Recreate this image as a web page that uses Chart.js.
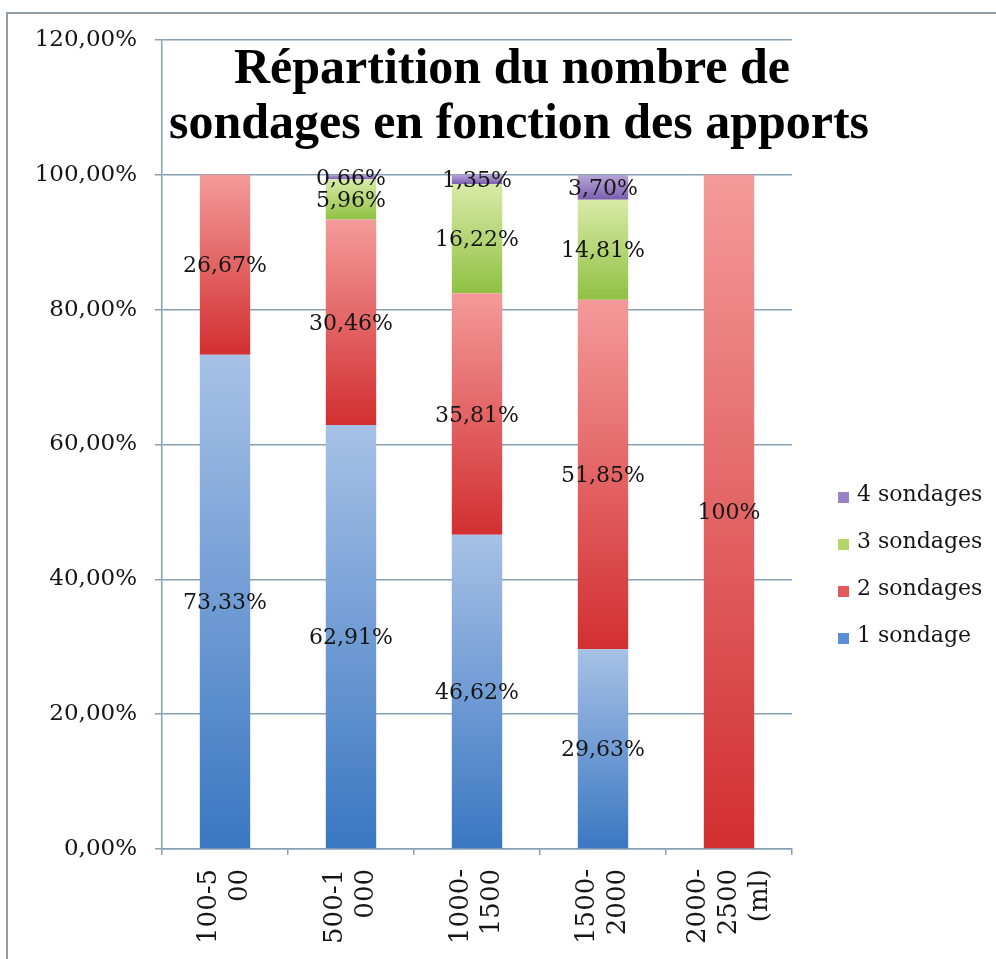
<!DOCTYPE html>
<html>
<head>
<meta charset="utf-8">
<title>Répartition du nombre de sondages</title>
<script src="https://cdn.jsdelivr.net/npm/chart.js@4.4.1/dist/chart.umd.min.js"></script>
<style>
    html, body { margin: 0; padding: 0; background: #fff; }
    #chart { display: block; }
</style>
</head>
<body>
<canvas id="chart" width="996" height="959"></canvas>
<script>
// Categories (x axis, multi-line as in the original)
const categories = [
    ['100-5', '00'],
    ['500-1', '000'],
    ['1000-', '1500'],
    ['1500-', '2000'],
    ['2000-', '2500', '(ml)']
];

// Series values, in %
const unSondage = [73.33, 62.91, 46.62, 29.63, 0];
const deuxSondages = [26.67, 30.46, 35.81, 51.85, 100];
const troisSondages = [0, 5.96, 16.22, 14.81, 0];
const quatreSondages = [0, 0.66, 1.35, 3.70, 0];

const seriesLabels = ['1 sondage', '2 sondages', '3 sondages', '4 sondages'];
const yTicks = [0, 20, 40, 60, 80, 100, 120];
const titleLines = ['Répartition du nombre de', 'sondages en fonction des apports'];

// gradient colours: [top, bottom]
const COLORS = {
    blue: ['#a7c1e6', '#3a77c2'],
    red: ['#f49a9a', '#d22f30'],
    green: ['#d9eaa8', '#8fc142'],
    purple: ['#b7a5d6', '#7b5fae']
};
const GRID = '#86a0b4';
const SERIF = '"DejaVu Serif", "Liberation Serif", serif';

const fmtPct = v => v === 100 ? '100%' : v.toFixed(2).replace('.', ',') + '%';

// Vertical gradient across each stacked segment
function segmentFill([top, bottom]) {
    return (ctx) => {
        const chart = ctx.chart;
        const y = chart.scales.y;
        if (ctx.type !== 'data' || !y || !chart.chartArea) return bottom;
        let start = 0;
        for (let i = 0; i < ctx.datasetIndex; i++) {
            start += chart.data.datasets[i].data[ctx.dataIndex];
        }
        const v = chart.data.datasets[ctx.datasetIndex].data[ctx.dataIndex];
        const y0 = y.getPixelForValue(start + v);
        const y1 = y.getPixelForValue(start);
        if (y1 - y0 < 1) return bottom;
        const g = chart.ctx.createLinearGradient(0, y0, 0, y1);
        g.addColorStop(0, top);
        g.addColorStop(1, bottom);
        return g;
    };
}

// Outer frame + white background
const framePlugin = {
    id: 'frame',
    beforeDraw(chart) {
        const c = chart.ctx;
        c.save();
        c.fillStyle = '#fff';
        c.fillRect(0, 0, chart.width, chart.height);
        c.strokeStyle = '#8f9ea8';
        c.lineWidth = 2;
        c.beginPath();
        c.moveTo(7, chart.height);
        c.lineTo(7, 13);
        c.lineTo(chart.width, 13);
        c.stroke();
        c.restore();
    }
};

// Value labels in the middle of each segment
const valueLabels = {
    id: 'valueLabels',
    afterDatasetsDraw(chart) {
        const c = chart.ctx;
        c.save();
        c.font = '22px ' + SERIF;
        c.fillStyle = '#161616';
        c.textAlign = 'center';
        c.textBaseline = 'middle';
        chart.data.datasets.forEach((ds, di) => {
            const meta = chart.getDatasetMeta(di);
            meta.data.forEach((bar, i) => {
                const v = ds.data[i];
                if (!v) return;
                c.fillText(fmtPct(v), bar.x, (bar.y + bar.base) / 2 + 2);
            });
        });
        c.restore();
    }
};

// Category labels: rotated, lines centred on the tick (Chart.js offsets them otherwise)
const xLabels = {
    id: 'xLabels',
    afterDraw(chart) {
        const c = chart.ctx;
        const x = chart.scales.x;
        const lh = 31;
        c.save();
        c.font = '26px ' + SERIF;
        c.fillStyle = '#161616';
        c.textAlign = 'right';
        c.textBaseline = 'middle';
        categories.forEach((lines, i) => {
            const px = x.getPixelForValue(i);
            lines.forEach((line, j) => {
                const off = (j - (lines.length - 1) / 2) * lh;
                c.save();
                c.translate(px + off, x.top + 20);
                c.rotate(-Math.PI / 2);
                c.fillText(line, 0, 0);
                c.restore();
            });
        });
        c.restore();
    }
};

// Title drawn inside the plot area, like the original
const titlePlugin = {
    id: 'insideTitle',
    afterDraw(chart) {
        const c = chart.ctx;
        c.save();
        c.font = 'bold 50px "Liberation Serif", serif';
        c.fillStyle = '#000';
        c.textAlign = 'center';
        c.textBaseline = 'alphabetic';
        c.fillText(titleLines[0], 512, 83);
        c.fillText(titleLines[1], 519, 138);
        c.restore();
    }
};

// Legend on the right, top item = last series
const legendPlugin = {
    id: 'sideLegend',
    afterDraw(chart) {
        const c = chart.ctx;
        const items = chart.data.datasets.map(ds => ({ text: ds.label, color: ds.legendColor })).reverse();
        c.save();
        c.font = '22px ' + SERIF;
        c.textBaseline = 'middle';
        c.textAlign = 'left';
        items.forEach((it, k) => {
            const yc = 495 + k * 47;
            c.fillStyle = it.color;
            c.fillRect(838, yc - 3, 11, 11);
            c.fillStyle = '#161616';
            c.fillText(it.text, 857, yc);
        });
        c.restore();
    }
};

const datasets = [
    { label: seriesLabels[0], data: unSondage, backgroundColor: segmentFill(COLORS.blue), legendColor: '#5b8fd3' },
    { label: seriesLabels[1], data: deuxSondages, backgroundColor: segmentFill(COLORS.red), legendColor: '#e25a5a' },
    { label: seriesLabels[2], data: troisSondages, backgroundColor: segmentFill(COLORS.green), legendColor: '#b3d56a' },
    { label: seriesLabels[3], data: quatreSondages, backgroundColor: segmentFill(COLORS.purple), legendColor: '#9a82c6' }
];

new Chart(document.getElementById('chart'), {
    type: 'bar',
    data: { labels: categories, datasets },
    options: {
        responsive: false,
        animation: false,
        devicePixelRatio: 1,
        categoryPercentage: 0.8,
        barPercentage: 0.5,
        layout: { padding: { left: 0, top: 40, right: 204, bottom: 0 } },
        plugins: {
            legend: { display: false },
            title: { display: false },
            tooltip: { enabled: false }
        },
        scales: {
            x: {
                stacked: true,
                offset: true,
                grid: { display: true, drawOnChartArea: false, color: GRID, tickLength: 6, lineWidth: 1.5 },
                border: { color: GRID, width: 1.5 },
                ticks: { display: false },
                afterFit(scale) { scale.height = 110; }
            },
            y: {
                stacked: true,
                min: 0,
                max: 120,
                afterBuildTicks(scale) { scale.ticks = yTicks.map(v => ({ value: v })); },
                grid: { color: GRID, tickLength: 7, lineWidth: 1.5 },
                border: { color: GRID, width: 1.5 },
                ticks: {
                    padding: 18,
                    color: '#161616',
                    font: { family: SERIF, size: 23 },
                    callback: v => v.toFixed(2).replace('.', ',') + '%'
                },
                afterFit(scale) { scale.width = 162; }
            }
        }
    },
    plugins: [framePlugin, valueLabels, xLabels, titlePlugin, legendPlugin]
});
</script>
</body>
</html>
